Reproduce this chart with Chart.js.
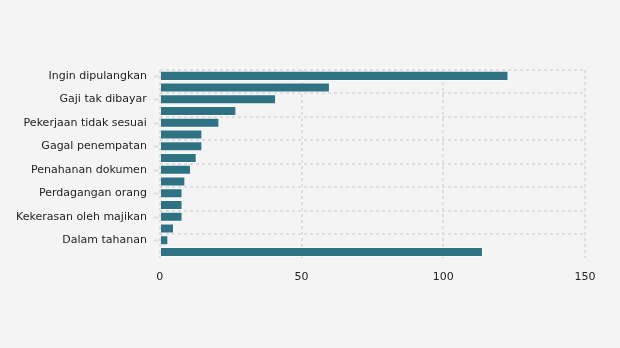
<!DOCTYPE html>
<html>
<head>
<meta charset="utf-8">
<script src="https://cdn.jsdelivr.net/npm/chart.js@4"></script>
<style>
  html, body { margin: 0; padding: 0; background: #f4f4f4; }
  #wrap { width: 620px; height: 348px; }
</style>
</head>
<body>
<div id="wrap"><canvas id="chart"></canvas></div>
<script>
// complaint categories, top to bottom (every other one gets a visible label)
const categories = [
  "Ingin dipulangkan",
  "Overstay",
  "Gaji tak dibayar",
  "Sakit",
  "Pekerjaan tidak sesuai",
  "PHK sepihak",
  "Gagal penempatan",
  "Meninggal dunia",
  "Penahanan dokumen",
  "Penipuan",
  "Perdagangan orang",
  "Putus komunikasi",
  "Kekerasan oleh majikan",
  "Pelecehan seksual",
  "Dalam tahanan",
  "Lainnya",
];

// number of cases per category
const cases = [123, 60, 41, 27, 21, 15, 15, 13, 11, 9, 8, 8, 8, 5, 3, 114];

const xTicks = [0, 50, 100, 150];

const BAR_COLOR = "#2f7283";
const GRID_COLOR = "#dedede";

// small tick marks next to the labels that are shown
const labelTicks = {
  id: "labelTicks",
  afterDraw(chart) {
    const { ctx, chartArea } = chart;
    const y = chart.scales.y;
    ctx.save();
    ctx.strokeStyle = GRID_COLOR;
    ctx.lineWidth = 2;
    for (let i = 0; i < categories.length; i += 2) {
      const py = Math.round(y.getPixelForTick(i)) + 0.5;
      ctx.beginPath();
      ctx.moveTo(chartArea.left - 6, py);
      ctx.lineTo(chartArea.left - 1, py);
      ctx.stroke();
    }
    ctx.restore();
  },
};

Chart.defaults.font.family = "'DejaVu Sans', Verdana, sans-serif";
Chart.defaults.font.size = 11;
Chart.defaults.color = "#222";

new Chart(document.getElementById("chart"), {
  type: "bar",
  data: {
    labels: categories,
    datasets: [
      {
        data: cases,
        backgroundColor: BAR_COLOR,
        borderColor: "rgba(255,255,255,0.55)",
        borderWidth: 1,
        barPercentage: 0.9,
        categoryPercentage: 0.95,
      },
    ],
  },
  options: {
    indexAxis: "y",
    responsive: true,
    maintainAspectRatio: false,
    animation: false,
    layout: { padding: { top: 70, right: 35, bottom: 51, left: 3 } },
    plugins: {
      legend: { display: false },
      tooltip: { enabled: false },
    },
    scales: {
      x: {
        min: 0,
        max: 150,
        afterBuildTicks(scale) {
          scale.ticks = xTicks.map((v) => ({ value: v }));
        },
        grid: {
          color: GRID_COLOR,
          lineWidth: 2,
          drawTicks: false,
        },
        border: { display: false, dash: [3, 3] },
        ticks: { padding: 13 },
      },
      y: {
        grid: {
          offset: true,
          lineWidth: 2,
          drawTicks: false,
          color: (ctx) => (ctx.index % 2 === 0 ? GRID_COLOR : "rgba(0,0,0,0)"),
        },
        border: { display: false, dash: [3, 3] },
        ticks: {
          autoSkip: false,
          padding: 13,
          callback: (value, i) => (i % 2 === 0 ? categories[i] : ""),
        },
      },
    },
  },
  plugins: [labelTicks],
});
</script>
</body>
</html>
